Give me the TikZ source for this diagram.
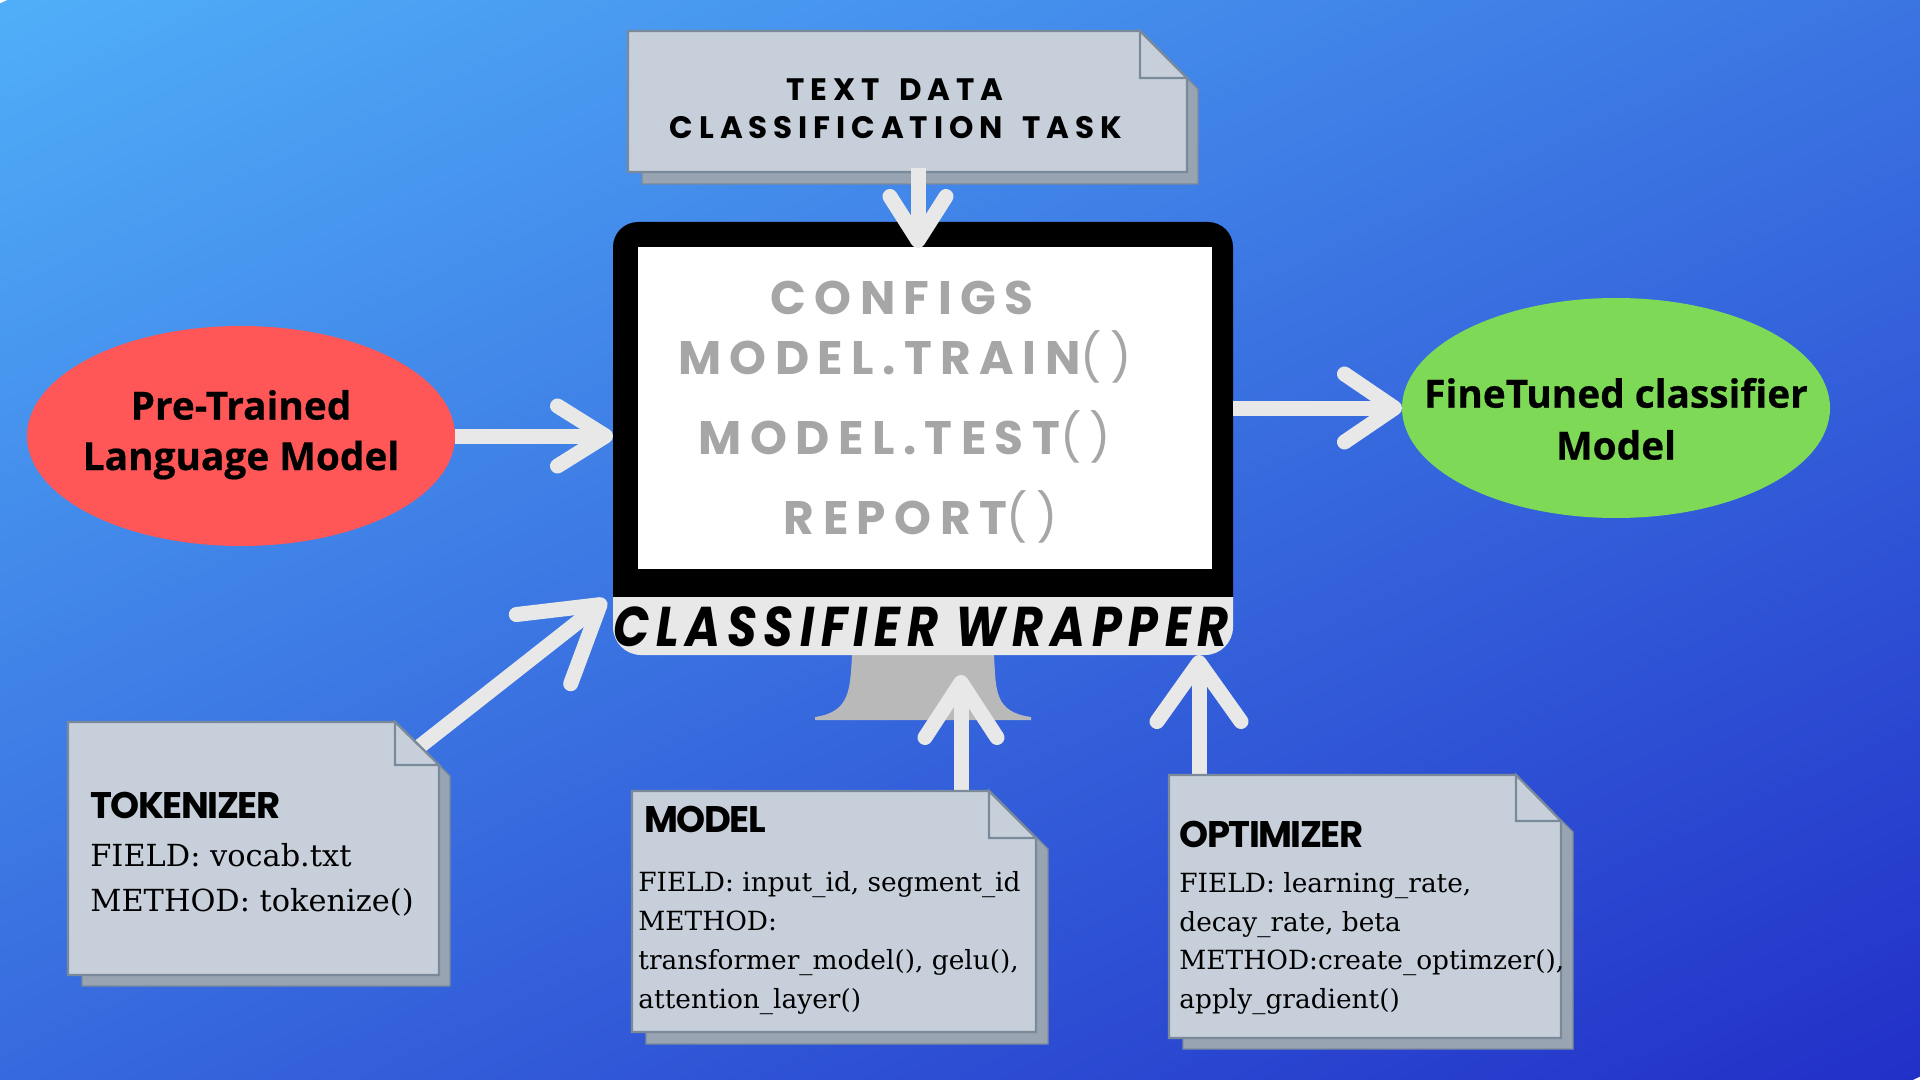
\documentclass[tikz,border=0pt]{standalone}
\usepackage{fontspec}
\usetikzlibrary{arrows.meta,shapes.geometric}
\setmainfont{Liberation Serif}
\newfontfamily\headfont[LetterSpace=-4]{Poppins}
\newfontfamily\spacedfont[LetterSpace=19,WordSpace=1.6]{Poppins}
\newfontfamily\screenfont[LetterSpace=18]{Poppins}
\newfontfamily\ovalfont[BoldFeatures={FakeBold=0.5}]{Open Sans}
\newfontfamily\wrapfont[LetterSpace=12,FakeStretch=0.85]{Poppins}
\newfontfamily\slabfont{DejaVu Serif}
\definecolor{docfill}{HTML}{C7D0DA}
\definecolor{docshadow}{HTML}{98A4B1}
\definecolor{docedge}{HTML}{7B8A9B}
\definecolor{arrowgrey}{HTML}{E8E8E8}
\definecolor{standgrey}{HTML}{B9B9B9}
\definecolor{screentext}{HTML}{A6A6A6}
\definecolor{redoval}{HTML}{FF5757}
\definecolor{greenoval}{HTML}{7ED957}
\definecolor{bgA}{HTML}{50AEF8}
\definecolor{bgB}{HTML}{2230C8}
\tikzset{
  x=0.5pt,y=-0.5pt,
  docbody/.style={fill=docfill,draw=docedge,line width=1.1pt,line join=miter},
  docback/.style={fill=docshadow,draw=docedge,line width=0.6pt},
  conn/.style={draw=arrowgrey,line width=7.5pt},
  headlabel/.style={anchor=base west,inner sep=0pt,font=\headfont\bfseries\fontsize{18.5}{20}\selectfont},
  bodylabel/.style={anchor=base west,inner sep=0pt,font=\slabfont\fontsize{15.2}{17}\selectfont},
  smallbody/.style={anchor=base west,inner sep=0pt,font=\slabfont\fontsize{13.2}{15}\selectfont},
  tasklabel/.style={inner sep=0pt,font=\spacedfont\bfseries\fontsize{15.5}{17}\selectfont},
  screenlabel/.style={inner sep=0pt,text=screentext,font=\screenfont\bfseries\fontsize{23.5}{25}\selectfont},
  ovallabel/.style={inner sep=0pt,font=\ovalfont\bfseries\fontsize{19.4}{21}\selectfont},
}
\newcommand{\thinparens}{{\mdseries()}}
\newcommand{\docshape}[9]{%
  % left top right bottom foldx foldy shadowleft shadowbottom shadowright
  \path[docback] (#7,#6+14) -- (#9-11,#6) -- (#9,#6+11) -- (#9,#8) -- (#7,#8) -- cycle;
  \path[docbody] (#1,#2) -- (#5,#2) -- (#3,#6) -- (#3,#4) -- (#1,#4) -- cycle;
  \path[docbody] (#5,#2) -- (#5,#6) -- (#3,#6) -- cycle;
}
\begin{document}
\begin{tikzpicture}
\useasboundingbox (0,0) rectangle (1920,1080);
\begin{scope}
\clip (0,0) rectangle (1920,1080);
\begin{scope}[transform canvas={rotate around={25:(960,540)}}]
\shade[top color=bgA,bottom color=bgB] (-500,-352) rectangle (2420,1432);
\end{scope}
\end{scope}
% ovals
\node[ellipse,fill=redoval,minimum width=214pt,minimum height=110pt,inner sep=0pt] (pretrained) at (241,436) {};
\node[ellipse,fill=greenoval,minimum width=214pt,minimum height=110pt,inner sep=0pt] (finetuned) at (1616,408) {};
\node[ovallabel] (preA) at (241,405) {Pre-Trained};
\node[ovallabel] (preB) at (241,460) {Language Model};
\node[ovallabel] (fineA) at (1616,393) {FineTuned classifier};
\node[ovallabel] (fineB) at (1616,445) {Model};
% monitor
\fill[standgrey] (852,655) -- (994,655) .. controls (996,690) and (994,712) .. (1031,717) -- (1031,720) -- (815,720) -- (815,717) .. controls (850,712) and (850,690) .. (852,655) -- cycle;
\fill[black] (613,597) -- (613,247) arc[start angle=180,end angle=90,x radius=25,y radius=-25] -- (1208,222) arc[start angle=90,end angle=0,x radius=25,y radius=-25] -- (1233,597) -- cycle;
\fill[arrowgrey] (613,597) -- (1233,597) -- (1233,627) arc[start angle=0,end angle=-90,x radius=28,y radius=-28] -- (641,655) arc[start angle=-90,end angle=-180,x radius=28,y radius=-28] -- cycle;
\node[fill=white,minimum width=287pt,minimum height=161pt,inner sep=0pt] (screen) at (925,408) {};
\coordinate (monitorTop) at (918,248);
\coordinate (monitorLeft) at (613,436);
\coordinate (monitorLL) at (606,600);
\coordinate (standTip) at (961,675);
\coordinate (bandTip) at (1199,655);
\node[screenlabel] (configs) at (902,298) {CONFIGS};
\node[screenlabel] (train) at (905,357) {MODEL.TRAIN\thinparens};
\node[screenlabel] (test) at (905,437) {MODEL.TEST\thinparens};
\node[screenlabel] (report) at (921,517) {REPORT\thinparens};
\node[inner sep=0pt,font=\wrapfont\bfseries\itshape\fontsize{28}{30}\selectfont] (wrapper) at (921,627) {CLASSIFIER WRAPPER};
% documents
\coordinate (tokOut) at (419,747);
\coordinate (modelOut) at (961,795);
\coordinate (optOut) at (1199,780);
\coordinate (taskOut) at (918,168);
\coordinate (preOut) at (455,436);
\coordinate (fineIn) at (1402,408);
\coordinate (monOut) at (1233,408);
% arrows under documents
\draw[conn,-{Straight Barb[length=24pt,width=30pt,round]}] (preOut) -- (monitorLeft);
\draw[conn,-{Straight Barb[length=25pt,width=34pt,round]}] (monOut) -- (fineIn);
\draw[conn,-{Straight Barb[length=36pt,width=44pt,round]}] (tokOut) -- (monitorLL);
\draw[conn,-{Straight Barb[length=27.5pt,width=36pt,round]}] (modelOut) -- (standTip);
\draw[conn,-{Straight Barb[length=29.5pt,width=42pt,round]}] (optOut) -- (bandTip);
\docshape{68}{722}{439}{975}{395}{765}{82}{986}{450}
\docshape{632}{791}{1036}{1032}{989}{838}{646}{1044}{1048}
\docshape{1169}{775}{1561}{1038}{1516}{821}{1183}{1049}{1573}
\docshape{628}{31}{1187}{172}{1140}{78}{642}{184}{1198}
\draw[conn,-{Straight Barb[length=22pt,width=28pt,round]}] (taskOut) -- (monitorTop);
\node[tasklabel] (taskA) at (895,90) {TEXT DATA};
\node[tasklabel] (taskB) at (896,128) {CLASSIFICATION TASK};
\node[headlabel] (tokH) at (90,818) {TOKENIZER};
\node[bodylabel] (tokA) at (90,866) {FIELD: vocab.txt};
\node[bodylabel] (tokB) at (90,911) {METHOD: tokenize()};
\node[headlabel] (modH) at (644,832) {MODEL};
\node[smallbody] (modA) at (638,891) {FIELD: input\_id, segment\_id};
\node[smallbody] (modB) at (638,930) {METHOD:};
\node[smallbody] (modC) at (638,969) {transformer\_model(), gelu(),};
\node[smallbody] (modD) at (638,1008) {attention\_layer()};
\node[headlabel] (optH) at (1179,847) {OPTIMIZER};
\node[smallbody] (optA) at (1179,892) {FIELD: learning\_rate,};
\node[smallbody] (optB) at (1179,931) {decay\_rate, beta};
\node[smallbody] (optC) at (1179,969) {METHOD:create\_optimzer(),};
\node[smallbody] (optD) at (1179,1008) {apply\_gradient()};
\end{tikzpicture}
\end{document}
